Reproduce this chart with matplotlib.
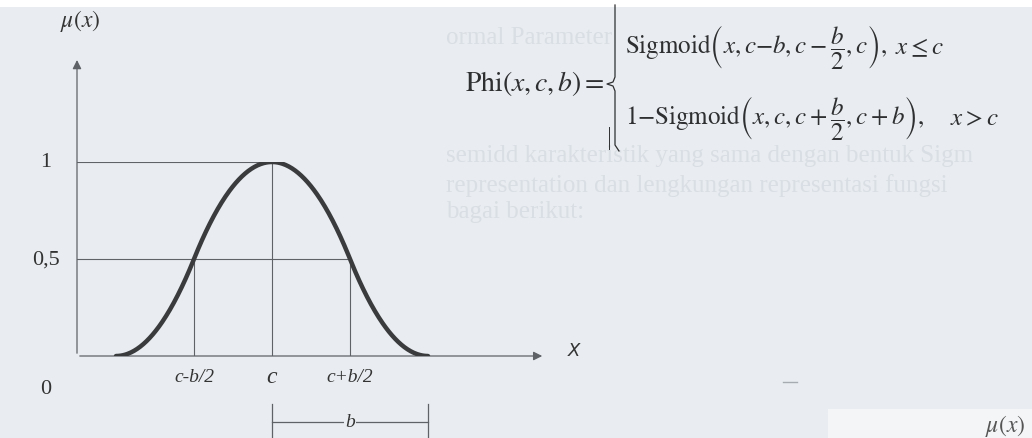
import numpy as np
import matplotlib.pyplot as plt
from matplotlib.lines import Line2D
from matplotlib.patches import Rectangle

plt.rcParams['mathtext.fontset'] = 'stix'
SERIF = 'Liberation Serif'

# Phi curve parameters (centre c, width b)
c = 5.0
b = 4.0
tick_pos = [c - b / 2, c, c + b / 2]
tick_labels = ['c-b/2', 'c', 'c+b/2']
y_pos = [0.0, 0.5, 1.0]
y_labels = ['0', '0,5', '1']

# faint text showing through from the other side of the page
ghost_lines = [
    'ormal Parameter',
    'semidd karakteristik yang sama dengan bentuk Sigm',
    'representation dan lengkungan representasi fungsi',
    'bagai berikut:',
]
ghost_y = [38, 156, 186, 212]


def sigmoid(x, a, m, e):
    # Zadeh S-function rising from a to e with crossover at m
    y = np.zeros_like(x)
    r1 = (x > a) & (x <= m)
    r2 = (x > m) & (x <= e)
    y[r1] = 2 * ((x[r1] - a) / (e - a)) ** 2
    y[r2] = 1 - 2 * ((x[r2] - e) / (e - a)) ** 2
    y[x > e] = 1
    return y


def phi(x, c, b):
    return np.where(x <= c,
                    sigmoid(x, c - b, c - b / 2, c),
                    1 - sigmoid(x, c, c + b / 2, c + b))


W, H = 1032, 439
paper = '#e9edf1'
fig = plt.figure(figsize=(W / 100, H / 100), dpi=100)
fig.patch.set_facecolor(paper)

# page layer in pixel coordinates
bg = fig.add_axes([0, 0, 1, 1], zorder=0)
bg.set_xlim(0, W)
bg.set_ylim(H, 0)
bg.axis('off')
bg.add_patch(Rectangle((0, 0), W, 8, color='white', lw=0))
bg.add_patch(Rectangle((828, 410), W - 828, H - 410, color='#f3f5f7', lw=0))
for s, yy in zip(ghost_lines, ghost_y):
    bg.text(446, yy, s, family=SERIF, fontsize=18, color='#d9dee4',
            va='center', ha='left', zorder=0)
bg.text(1005, 426, r'$\mu(x)$', fontsize=17, color='#555', ha='center', va='center')
bg.plot([783, 797], [383, 383], color='#a5abb1', lw=1)

# diagram axes: origin at the pixel (77, 357), 39 px per unit in x, 194 px per unit in y
px = 39.0
x0, y0, yh = 77, 357, 194
ax = fig.add_axes([x0 / W, (H - y0) / H, 470 / W, yh / H], zorder=1)
ax.set_xlim(0, 470 / px)
ax.set_ylim(0, 1)
ax.axis('off')

gray = '#5f6266'
xs = np.linspace(c - b, c + b, 400)
ax.plot(xs, phi(xs, c, b), color='#3a3b3d', lw=3.2, solid_capstyle='round', zorder=5)

# guide lines
ax.plot([0, c], [1, 1], color=gray, lw=0.8)
ax.plot([0, c + b / 2], [0.5, 0.5], color=gray, lw=0.8)
for xp in tick_pos:
    ax.plot([xp, xp], [0, phi(np.array([xp]), c, b)[0]], color=gray, lw=0.8)

# axes with arrow heads
ax.annotate('', xy=(0, 1.54), xytext=(0, 0), annotation_clip=False,
            arrowprops=dict(arrowstyle='-|>', lw=0.9, color=gray, mutation_scale=13))
ax.annotate('', xy=(12.0, 0), xytext=(0, 0), annotation_clip=False,
            arrowprops=dict(arrowstyle='-|>', lw=0.9, color=gray, mutation_scale=13))
ax.text(12.75, 0.03, 'X', fontsize=13, color='#333', family='DejaVu Sans',
        style='italic', ha='center', va='center')
ax.text(0.08, 1.73, r'$\mu(x)$', fontsize=17, color='#333', ha='center', va='center')

for xp, lab in zip(tick_pos, tick_labels):
    ax.text(xp, -0.108, lab, family=SERIF, style='italic',
            fontsize=17 if lab == 'c' else 14, color='#333', ha='center', va='center')
for yp, lab in zip(y_pos, y_labels):
    yy = -0.17 if yp == 0 else yp
    ax.text(-0.8, yy, lab, family=SERIF, fontsize=16, color='#333', ha='center', va='center')

# width bracket b from c to c+b
for xp in [c, c + b]:
    ax.plot([xp, xp], [-0.245, -0.45], color=gray, lw=0.9, clip_on=False)
ax.plot([c, c + b], [-0.34, -0.34], color=gray, lw=0.9, clip_on=False)
ax.text(c + b / 2, -0.34, 'b', family=SERIF, style='italic', fontsize=14, color='#333',
        ha='center', va='center', bbox=dict(fc=paper, ec='none', pad=1))

# definition of the Phi function
ink = '#2e2f31'
bg.text(605, 84, r'$\mathrm{Phi}(x,c,b) =$', fontsize=20, color=ink, ha='right', va='center')
bx = [615, 615, 613, 607, 613, 615, 615, 619]
by = [6, 78, 83, 85, 87, 92, 146, 152]
bg.add_line(Line2D(bx, by, color=ink, lw=0.9))
bg.plot([609, 609], [128, 150], color=ink, lw=0.7)
bg.text(625, 47, r'$\mathrm{Sigmoid}\left(x,c\mathrm{-}b,c-\dfrac{b}{2},c\right),$',
        fontsize=18, color=ink, ha='left', va='center')
bg.text(895, 47, r'$x \leq c$', fontsize=18, color=ink, ha='left', va='center')
bg.text(625, 118, r'$1\mathrm{-}\mathrm{Sigmoid}\left(x,c,c+\dfrac{b}{2},c+b\right),$',
        fontsize=18, color=ink, ha='left', va='center')
bg.text(950, 118, r'$x > c$', fontsize=18, color=ink, ha='left', va='center')

fig.savefig('out.png', dpi=100, facecolor=fig.get_facecolor())
